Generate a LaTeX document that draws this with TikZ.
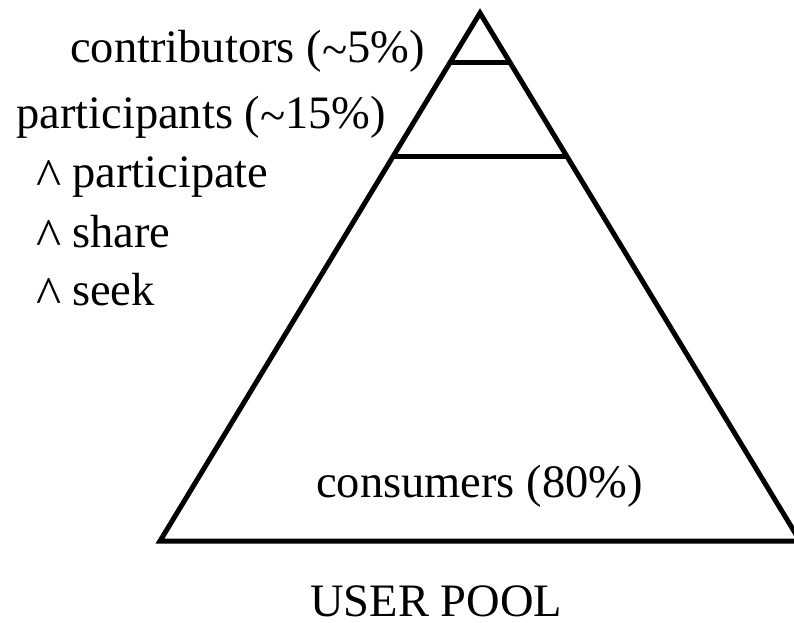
\documentclass[tikz,border=0pt]{standalone}
\usepackage{fontspec}
\setmainfont{Liberation Serif}
\usetikzlibrary{calc}
\begin{document}
\begin{tikzpicture}[x=1pt,y=-1pt,
  lbl/.style={inner sep=0pt,anchor=base west,font=\fontsize{46.5}{50}\selectfont},
  edge/.style={line width=5pt,line join=miter}]
\useasboundingbox (0,0) rectangle (794,622);
\clip (0,0) rectangle (794,622);
\newcommand{\upmark}{\makebox[22pt][c]{\raisebox{-8pt}{\scalebox{1.15}{\char`\^}}}\hspace{12pt}}
\coordinate (A) at (480,13);
\coordinate (L) at (160,541);
\coordinate (R) at (800,541);
\draw[edge] (A) -- (L) -- (R) -- cycle;
\coordinate (t1l) at ($(A)!0.0928!(L)$);
\coordinate (t1r) at ($(A)!0.0928!(R)$);
\coordinate (t2l) at ($(A)!0.2727!(L)$);
\coordinate (t2r) at ($(A)!0.2727!(R)$);
\draw[edge] (t1l) -- (t1r);
\draw[edge] (t2l) -- (t2r);
\node[lbl] (contrib) at (70,62) {contributors (\raisebox{-3pt}{\char`\~}5\%)};
\node[lbl] (partic) at (16,128) {participants (\raisebox{-3pt}{\char`\~}15\%)};
\node[lbl] (b1) at (38,187) {\upmark participate};
\node[lbl] (b2) at (38,247) {\upmark share};
\node[lbl] (b3) at (38,305) {\upmark seek};
\node[lbl] (cons) at (316,497) {consumers (80\%)};
\node[lbl] (pool) at (310,616) {USER POOL};
\end{tikzpicture}
\end{document}
